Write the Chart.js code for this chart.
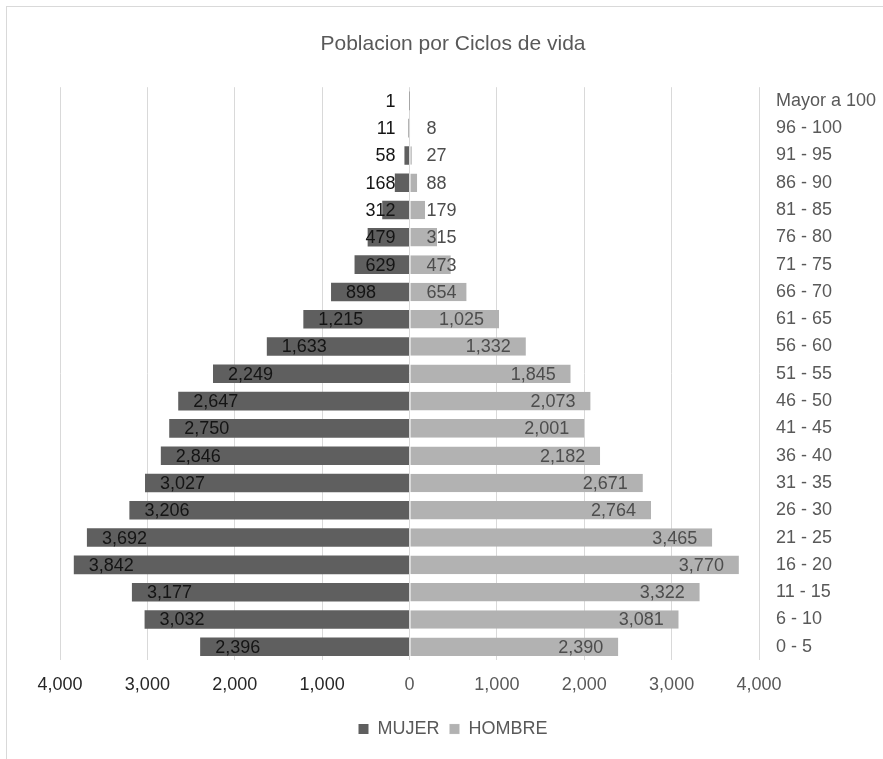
<!DOCTYPE html>
<html>
<head>
<meta charset="utf-8">
<script src="https://cdn.jsdelivr.net/npm/chart.js@4/dist/chart.umd.min.js"></script>
<style>
  body { margin: 0; background: #fff; }
  #wrap { position: relative; width: 883px; height: 759px; }
  #marco { position: absolute; left: 6px; top: 6px; right: -5px; bottom: -5px; border: 1px solid #d9d9d9; pointer-events: none; }
</style>
</head>
<body>
<div id="wrap">
  <canvas id="piramide" width="883" height="759"></canvas>
  <div id="marco"></div>
</div>
<script>
const categorias = ['0 - 5', '6 - 10', '11 - 15', '16 - 20', '21 - 25', '26 - 30', '31 - 35',
  '36 - 40', '41 - 45', '46 - 50', '51 - 55', '56 - 60', '61 - 65', '66 - 70', '71 - 75',
  '76 - 80', '81 - 85', '86 - 90', '91 - 95', '96 - 100', 'Mayor a 100'];
const mujer = [2396, 3032, 3177, 3842, 3692, 3206, 3027, 2846, 2750, 2647, 2249, 1633, 1215,
  898, 629, 479, 312, 168, 58, 11, 1];
const hombre = [2390, 3081, 3322, 3770, 3465, 2764, 2671, 2182, 2001, 2073, 1845, 1332, 1025,
  654, 473, 315, 179, 88, 27, 8, null];
const limiteX = 4000;
const pasoX = 1000;

const fuente = '"Liberation Sans", Arial, sans-serif';

// etiquetas de datos estilo Excel (extremo interior)
const etiquetas = {
  id: 'etiquetas',
  afterDatasetsDraw(chart) {
    const ctx = chart.ctx;
    const cero = chart.scales.x.getPixelForValue(0);
    ctx.save();
    ctx.font = '18px ' + fuente;
    ctx.textBaseline = 'middle';
    ctx.textAlign = 'left';
    chart.data.datasets.forEach((ds, i) => {
      const valores = i === 0 ? mujer : hombre;
      chart.getDatasetMeta(i).data.forEach((bar, j) => {
        const v = valores[j];
        if (v == null) return;
        const txt = v.toLocaleString('en-US');
        const w = ctx.measureText(txt).width;
        let x;
        if (i === 0) {
          x = bar.x + 15;
          if (x + w > cero - 14) x = cero - 14 - w;
          ctx.fillStyle = '#141414';
        } else {
          x = bar.x - 15 - w;
          if (x < cero + 17) x = cero + 17;
          ctx.fillStyle = '#4d4d4d';
        }
        ctx.fillText(txt, x, bar.y + 1);
      });
    });
    ctx.restore();
  }
};

new Chart(document.getElementById('piramide'), {
  type: 'bar',
  data: {
    labels: categorias,
    datasets: [
      {
        label: 'MUJER',
        data: mujer.map(v => -v),
        backgroundColor: '#5f5f5f',
        borderWidth: 0,
        barPercentage: 1,
        categoryPercentage: 0.68,
      },
      {
        label: 'HOMBRE',
        data: hombre,
        backgroundColor: '#b2b2b2',
        borderColor: '#d9d9d9',
        borderSkipped: false,
        borderWidth: { left: 1, top: 0, right: 0, bottom: 0 },
        barPercentage: 1,
        categoryPercentage: 0.68,
      },
    ],
  },
  options: {
    indexAxis: 'y',
    responsive: false,
    maintainAspectRatio: false,
    animation: false,
    layout: { padding: { left: 30, right: 7, top: 0, bottom: 11 } },
    plugins: {
      title: {
        display: true,
        text: 'Poblacion por Ciclos de vida',
        color: '#595959',
        font: { family: fuente, size: 21, weight: 'normal' },
        padding: { top: 32, bottom: 30 },
      },
      legend: {
        position: 'bottom',
        labels: {
          color: '#595959',
          boxWidth: 10,
          boxHeight: 10,
          padding: 10,
          font: { family: fuente, size: 18 },
        },
      },
      tooltip: { enabled: false },
    },
    scales: {
      x: {
        stacked: true,
        min: -limiteX,
        max: limiteX,
        ticks: {
          stepSize: pasoX,
          padding: 14,
          font: { family: fuente, size: 18 },
          color: (c) => (c.tick && c.tick.value < 0 ? '#262626' : '#595959'),
          callback: (v) => Math.abs(v).toLocaleString('en-US'),
        },
        grid: { color: '#d9d9d9', drawTicks: false },
        border: { display: false },
        afterFit: (s) => {
          s.paddingLeft = 60;
        },
      },
      y: {
        stacked: true,
        position: 'right',
        reverse: true,
        ticks: {
          padding: 17,
          color: '#595959',
          font: { family: fuente, size: 18 },
        },
        grid: { display: false, drawTicks: false },
        border: { display: false },
        afterFit: (s) => {
          s.width = 117;
        },
      },
    },
  },
  plugins: [etiquetas],
});
</script>
</body>
</html>
